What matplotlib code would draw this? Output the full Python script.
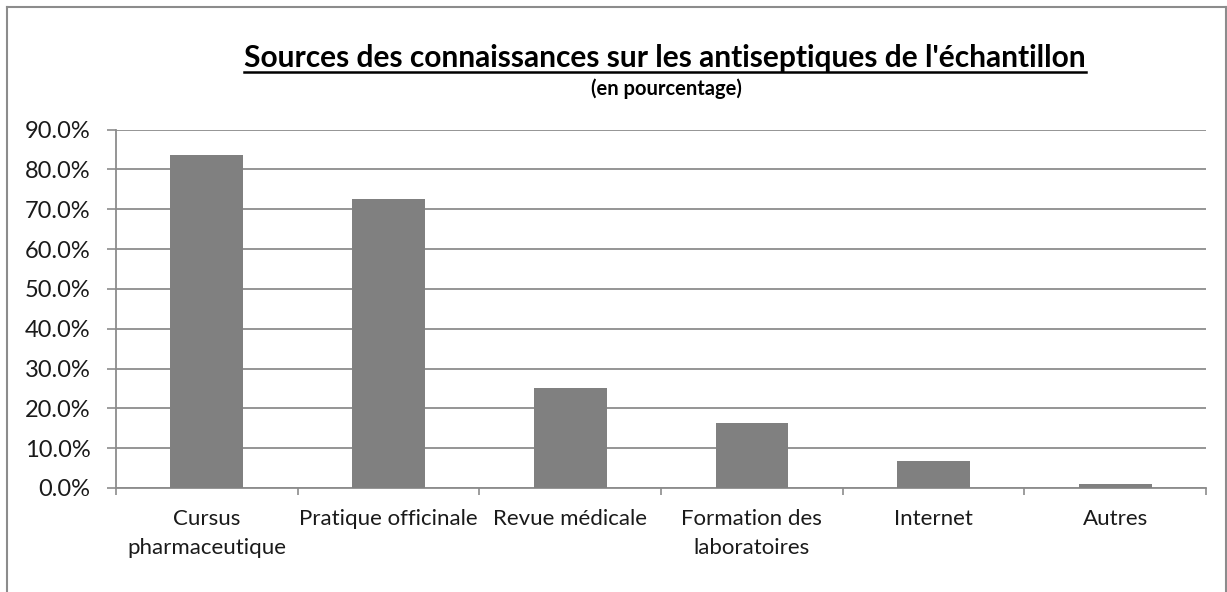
import matplotlib
matplotlib.use("Agg")
import matplotlib.pyplot as plt
from matplotlib.ticker import PercentFormatter, FixedLocator, NullFormatter
from matplotlib.lines import Line2D

categories = ["Cursus\npharmaceutique", "Pratique officinale", "Revue médicale",
              "Formation des\nlaboratoires", "Internet", "Autres"]
values = [83.6, 72.5, 25.2, 16.2, 6.9, 1.1]
yticks = [0, 10, 20, 30, 40, 50, 60, 70, 80, 90]
title = "Sources des connaissances sur les antiseptiques de l'échantillon"
subtitle = "(en pourcentage)"

plt.rcParams['font.family'] = ['Lato', 'DejaVu Sans']
W, H = 1227, 592
fig = plt.figure(figsize=(W/100, H/100), dpi=100)
ax = fig.add_axes([116/W, 1-488/H, (1206-116)/W, (488-129.5)/H])

x = list(range(len(categories)))
ax.bar(x, values, width=0.4, color="#808080", zorder=3)
ax.set_xlim(-0.5, len(categories)-0.5)
ax.set_ylim(0, 90)
ax.yaxis.set_major_locator(FixedLocator(yticks))
ax.yaxis.set_major_formatter(PercentFormatter(decimals=1))
ax.grid(axis='y', color="#8c8c8c", linewidth=1.3, zorder=0)
ax.set_xticks([i - 0.5 for i in range(len(categories)+1)])
ax.xaxis.set_major_formatter(NullFormatter())
ax.set_xticks(x, minor=True)
ax.set_xticklabels(categories, minor=True, fontsize=16, color="#1a1a1a", linespacing=1.55)
ax.tick_params(axis='x', which='minor', length=0, pad=15)
ax.tick_params(axis='x', which='major', length=5, color="#8c8c8c", width=1.2)
ax.tick_params(axis='y', length=6.5, color="#8c8c8c", width=1.2, labelsize=17, labelcolor="#1a1a1a", pad=12)
for s in ['top', 'right']:
    ax.spines[s].set_visible(False)
for s in ['left', 'bottom']:
    ax.spines[s].set_color("#8c8c8c")
    ax.spines[s].set_linewidth(1.3)

t = fig.text(665/W, 1-58/H, title, ha='center', va='center', fontsize=21.5, fontweight='bold', color="#000000")
fig.text(666/W, 1-89/H, subtitle, ha='center', va='center', fontsize=14.5, fontweight='bold', color="#000000")

fig.canvas.draw()
bb = t.get_window_extent(renderer=fig.canvas.get_renderer())
uy = H - 72
fig.add_artist(Line2D([bb.x0/W, bb.x1/W], [uy/H, uy/H], color='black', linewidth=1.8, transform=fig.transFigure))

# chart border
bc = "#8c8c8c"
fig.add_artist(Line2D([7/W, 7/W], [0, 1-7/H], color=bc, lw=1.5, transform=fig.transFigure))
fig.add_artist(Line2D([7/W, 1226/W], [1-7/H, 1-7/H], color=bc, lw=1.5, transform=fig.transFigure))
fig.add_artist(Line2D([1226/W, 1226/W], [0, 1-7/H], color=bc, lw=1.5, transform=fig.transFigure))

fig.savefig("out.png", dpi=100)
